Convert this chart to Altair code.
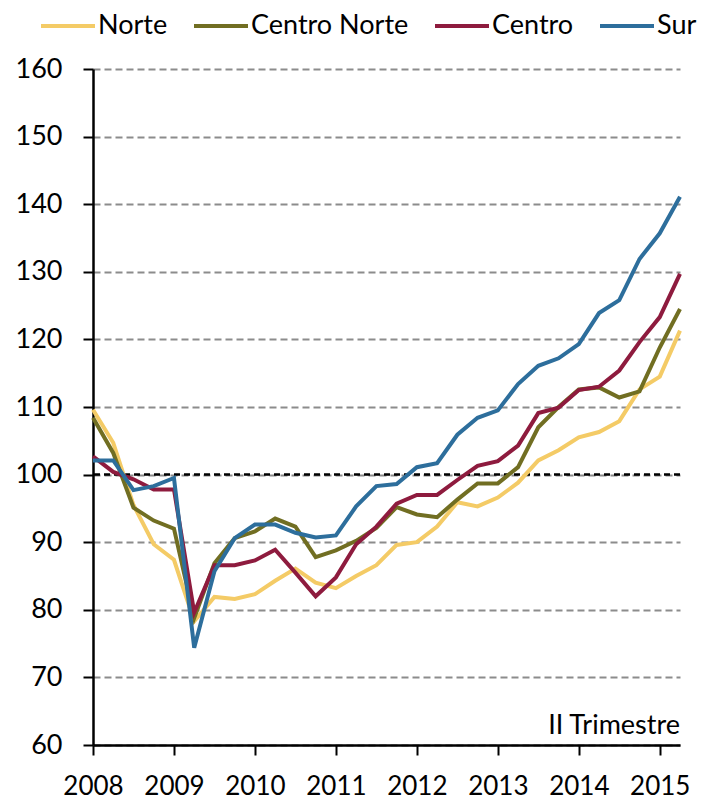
import altair as alt
import pandas as pd

# ---- data (quarterly index, 2008-I to 2015-II) ----
years = list(range(2008, 2016))
quarter_years = [y for y in years for _ in range(4)][:30]
quarter_nums = [q for _ in years for q in range(1, 5)][:30]

norte = [109.6, 104.7, 95.5, 89.7, 87.4, 78.3, 81.9, 81.6, 82.3, 84.3,
         86.1, 84.0, 83.2, 85.0, 86.6, 89.6, 90.0, 92.3, 95.9, 95.3,
         96.6, 98.8, 102.1, 103.6, 105.5, 106.3, 107.9, 112.6, 114.5, 121.3]
centro_norte = [108.4, 103.2, 95.1, 93.2, 92.0, 78.8, 86.9, 90.6, 91.6, 93.5,
                92.3, 87.8, 88.8, 90.2, 92.1, 95.2, 94.1, 93.7, 96.3, 98.7,
                98.7, 101.1, 107.0, 110.0, 112.6, 112.9, 111.4, 112.3, 118.8, 124.5]
centro = [102.7, 100.4, 99.3, 97.8, 97.8, 79.6, 86.6, 86.6, 87.3, 88.9,
          85.5, 82.0, 84.8, 89.7, 92.3, 95.7, 97.0, 97.0, 99.2, 101.3,
          102.0, 104.3, 109.1, 109.9, 112.5, 113.0, 115.4, 119.6, 123.3, 129.7]
sur = [102.1, 102.1, 97.7, 98.3, 99.5, 74.4, 85.7, 90.6, 92.6, 92.6,
       91.4, 90.7, 91.0, 95.3, 98.3, 98.6, 101.1, 101.7, 105.9, 108.4,
       109.5, 113.4, 116.1, 117.2, 119.3, 123.9, 125.8, 131.9, 135.7, 141.1]

series_names = ["Norte", "Centro Norte", "Centro", "Sur"]
series_values = [norte, centro_norte, centro, sur]
series_colors = ["#F4CB66", "#716E22", "#8E1B3E", "#2D6E9C"]

y_ticks = list(range(60, 161, 10))
baseline_value = 100
note_text = "II Trimestre"
note_x = 2015.25
note_y = 61.6

rows = []
for name, vals in zip(series_names, series_values):
    for yr, q, v in zip(quarter_years, quarter_nums, vals):
        rows.append({"t": yr + (q - 1) / 4, "region": name, "value": v})
df = pd.DataFrame(rows)

FONT = "Lato"

x_scale = alt.Scale(domain=[2008, 2015.25], nice=False, zero=False)
y_scale = alt.Scale(domain=[60, 160], nice=False, zero=False)

lines = alt.Chart(df).mark_line(strokeWidth=4, strokeJoin="miter").encode(
    x=alt.X("t:Q", scale=x_scale,
            axis=alt.Axis(values=years, format="d", title=None, grid=False,
                          domainColor="black", domainWidth=2.5,
                          tickColor="black", tickWidth=2, tickSize=10,
                          labelFont=FONT, labelFontSize=26, labelColor="black",
                          labelPadding=18, labelFlush=False)),
    y=alt.Y("value:Q", scale=y_scale,
            axis=alt.Axis(values=y_ticks, title=None, grid=True,
                          gridColor="#8C8C8C", gridDash=[7, 4], gridWidth=2,
                          domainColor="black", domainWidth=2.5,
                          tickColor="black", tickWidth=2, tickSize=10,
                          labelFont=FONT, labelFontSize=27, labelColor="black",
                          labelPadding=21)),
    color=alt.Color("region:N",
                    scale=alt.Scale(domain=series_names, range=series_colors),
                    legend=alt.Legend(orient="none", legendX=-54, legendY=-72,
                                      direction="horizontal", columns=4,
                                      title=None, symbolType="stroke",
                                      symbolSize=2916, symbolStrokeWidth=4,
                                      labelFont=FONT, labelFontSize=27,
                                      labelColor="black", labelOffset=1,
                                      columnPadding=18, padding=0,
                                      labelLimit=0)),
    order=alt.Order("t:Q"),
)

ref = alt.Chart(pd.DataFrame({"v": [baseline_value]})).mark_rule(
    color="black", strokeWidth=2.5, strokeDash=[6, 4]
).encode(y=alt.Y("v:Q", scale=y_scale))

note = alt.Chart(pd.DataFrame({"x": [note_x], "y": [note_y], "txt": [note_text]})).mark_text(
    align="right", baseline="alphabetic", font=FONT, fontSize=27, color="black"
).encode(
    x=alt.X("x:Q", scale=x_scale),
    y=alt.Y("y:Q", scale=y_scale),
    text="txt:N",
)

chart = alt.layer(ref, lines, note).properties(
    width=587, height=676,
    padding={"left": 85, "top": 61, "right": 28, "bottom": 56},
    autosize=alt.AutoSizeParams(type="none"),
).configure_view(stroke=None)

chart.save("out.html", embed_options={"renderer": "svg", "actions": False})
